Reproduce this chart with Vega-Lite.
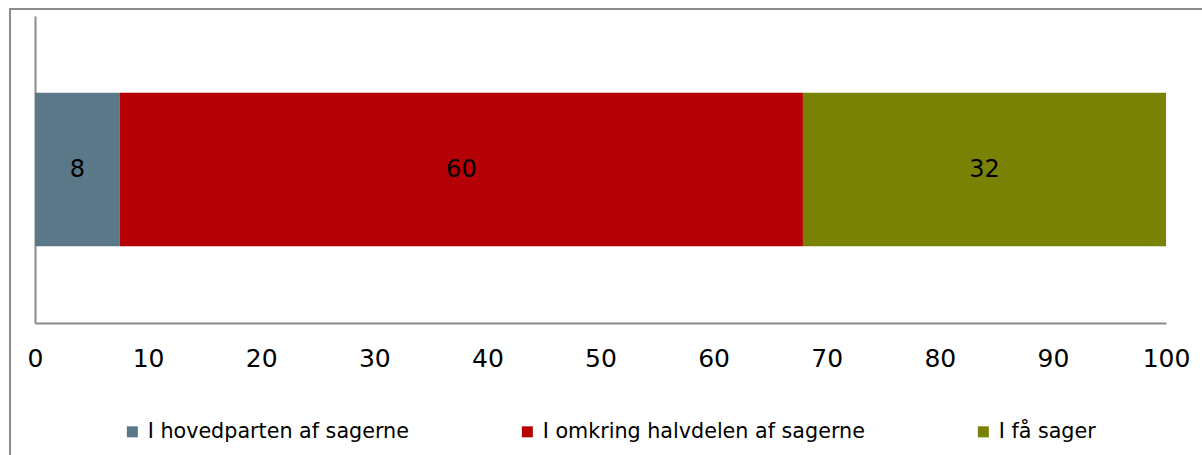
{
  "$schema": "https://vega.github.io/schema/vega-lite/v6.json",
  "autosize": {"type": "none"},
  "padding": {"left": 10, "top": 9, "right": -2, "bottom": -2},
  "width": 1194,
  "height": 448,
  "background": "white",
  "config": {
    "view": {"stroke": "#8c8c8c", "strokeWidth": 2},
    "font": "DejaVu Sans"
  },
  "data": {
    "values": [
      {"g": "all", "k": 1, "cat": "I hovedparten af sagerne", "value": 7.5},
      {"g": "all", "k": 2, "cat": "I omkring halvdelen af sagerne", "value": 60.4},
      {"g": "all", "k": 3, "cat": "I få sager", "value": 32.1}
    ]
  },
  "transform": [
    {"stack": "value", "groupby": ["g"], "sort": [{"field": "k", "order": "ascending"}], "as": ["v0", "v1"]},
    {"calculate": "(datum.v0 + datum.v1) / 2", "as": "mid"}
  ],
  "layer": [
    {
      "mark": {"type": "bar"},
      "encoding": {
        "y": {
          "field": "g", "type": "nominal",
          "scale": {"range": [7, 314], "paddingInner": 0.5, "paddingOuter": 0.25},
          "axis": {"labels": false, "ticks": false, "title": null, "domainColor": "#8c8c8c", "domainWidth": 2, "offset": -25, "grid": false}
        },
        "x": {
          "field": "v0", "type": "quantitative",
          "scale": {"domain": [0, 100], "range": [25, 1156], "nice": false},
          "axis": {
            "title": null, "values": [0, 10, 20, 30, 40, 50, 60, 70, 80, 90, 100],
            "grid": false, "ticks": false, "offset": -134,
            "domainColor": "#8c8c8c", "domainWidth": 2,
            "labelFontSize": 25, "labelColor": "black", "labelPadding": 23,
            "labelOverlap": false, "labelFlush": false
          }
        },
        "x2": {"field": "v1"},
        "color": {
          "field": "cat", "type": "nominal",
          "scale": {
            "domain": ["I hovedparten af sagerne", "I omkring halvdelen af sagerne", "I få sager"],
            "range": ["#5B7888", "#B50005", "#7A8205"]
          },
          "legend": {
            "orient": "none", "legendX": 112, "legendY": 412,
            "direction": "horizontal", "title": null,
            "symbolType": "square", "symbolSize": 121, "symbolStrokeWidth": 0,
            "labelFontSize": 20.7, "labelColor": "black", "labelOffset": 5, "labelLimit": 0,
            "columnPadding": 108, "padding": 0
          }
        }
      }
    },
    {
      "mark": {"type": "text", "fontSize": 24, "color": "black"},
      "encoding": {
        "y": {"field": "g", "type": "nominal"},
        "x": {"field": "mid", "type": "quantitative"},
        "text": {"field": "value", "type": "quantitative", "format": ".0f"}
      }
    }
  ]
}
